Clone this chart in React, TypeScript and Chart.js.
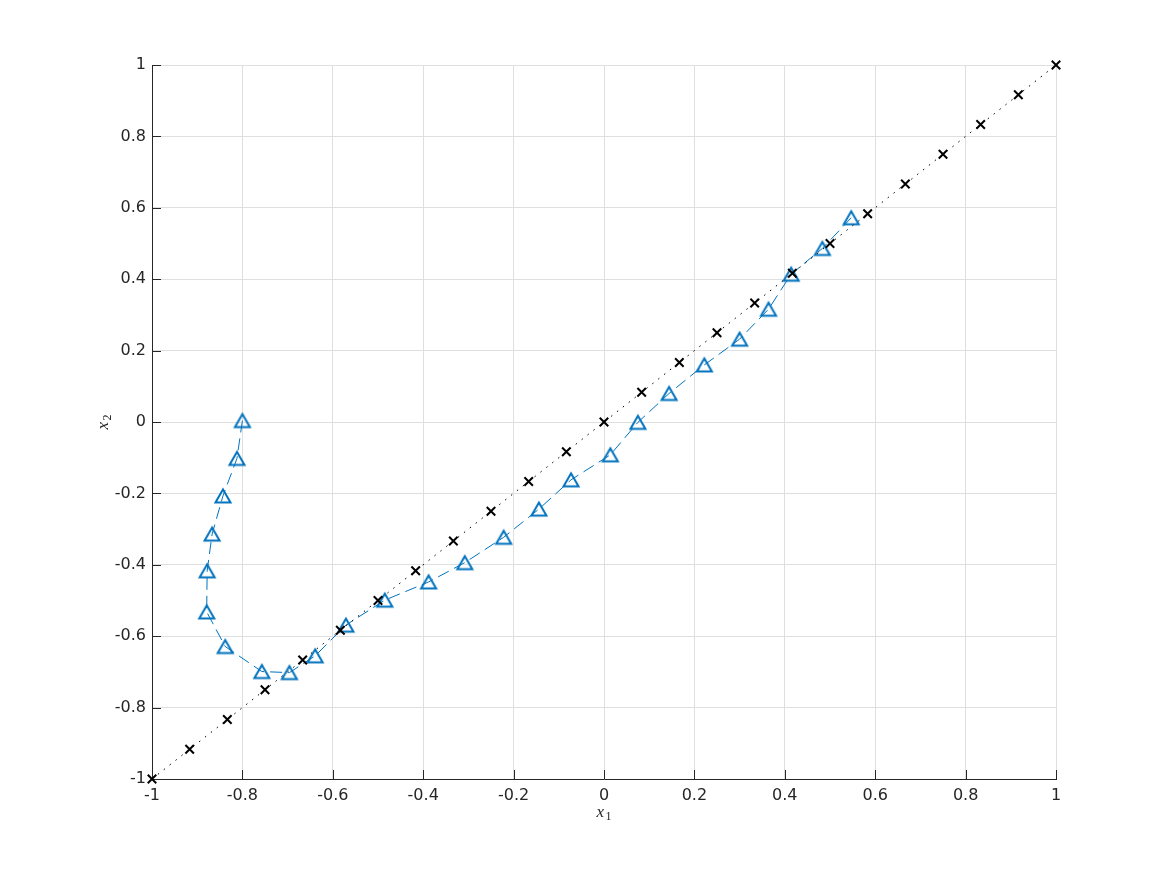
import React, { useEffect, useRef } from 'react';
import { Chart, registerables } from 'chart.js';

Chart.register(...registerables);

// Reference diagonal (black crosses, dotted line)
const refX = [-1, -0.9167, -0.8333, -0.75, -0.6667, -0.5833, -0.5, -0.4167, -0.3333, -0.25, -0.1667, -0.0833, 0, 0.0833, 0.1667, 0.25, 0.3333, 0.4167, 0.5, 0.5833, 0.6667, 0.75, 0.8333, 0.9167, 1];
const refY = [-1, -0.9167, -0.8333, -0.75, -0.6667, -0.5833, -0.5, -0.4167, -0.3333, -0.25, -0.1667, -0.0833, 0, 0.0833, 0.1667, 0.25, 0.3333, 0.4167, 0.5, 0.5833, 0.6667, 0.75, 0.8333, 0.9167, 1];

// Trajectory (blue triangles, dashed line)
const trajX = [-0.800, -0.812, -0.843, -0.867, -0.878, -0.879, -0.838, -0.757, -0.696, -0.639, -0.571, -0.485, -0.388, -0.308, -0.222, -0.144, -0.073, 0.014, 0.075, 0.144, 0.222, 0.300, 0.364, 0.414, 0.483, 0.547];
const trajY = [0.004, -0.102, -0.207, -0.314, -0.417, -0.532, -0.629, -0.699, -0.702, -0.655, -0.569, -0.499, -0.448, -0.394, -0.323, -0.244, -0.162, -0.092, -0.001, 0.080, 0.160, 0.232, 0.316, 0.414, 0.486, 0.572];

const tickValues = [-1, -0.8, -0.6, -0.4, -0.2, 0, 0.2, 0.4, 0.6, 0.8, 1];
const tickLabels = ['-1', '-0.8', '-0.6', '-0.4', '-0.2', '0', '0.2', '0.4', '0.6', '0.8', '1'];

const AXIS = '#262626';
const GRID = '#dfdfdf';
const BLUE = '#0072BD';

function makeTriangle(): HTMLCanvasElement {
  const c = document.createElement('canvas');
  c.width = 20;
  c.height = 18;
  const ctx = c.getContext('2d')!;
  ctx.strokeStyle = BLUE;
  ctx.lineWidth = 2;
  ctx.lineJoin = 'miter';
  ctx.beginPath();
  ctx.moveTo(10, 2.5);
  ctx.lineTo(2.5, 15.5);
  ctx.lineTo(17.5, 15.5);
  ctx.closePath();
  ctx.stroke();
  return c;
}

function drawLabel(ctx: CanvasRenderingContext2D, main: string, sub: string) {
  ctx.font = 'italic 17px "Liberation Serif", "DejaVu Serif", serif';
  const w1 = ctx.measureText(main).width;
  ctx.font = '12px "Liberation Serif", "DejaVu Serif", serif';
  const w2 = ctx.measureText(sub).width;
  const total = w1 + 1.5 + w2;
  ctx.textBaseline = 'alphabetic';
  ctx.textAlign = 'left';
  ctx.fillStyle = AXIS;
  ctx.font = 'italic 17px "Liberation Serif", "DejaVu Serif", serif';
  ctx.fillText(main, -total / 2, 0);
  ctx.font = '12px "Liberation Serif", "DejaVu Serif", serif';
  ctx.fillText(sub, -total / 2 + w1 + 1.5, 3);
}

const matlabAxes = {
  id: 'matlabAxes',
  beforeDatasetsDraw(chart: any) {
    const { ctx, chartArea } = chart;
    const xs = chart.scales.x;
    const ys = chart.scales.y;
    ctx.save();
    ctx.strokeStyle = AXIS;
    ctx.lineWidth = 1;
    ctx.beginPath();
    for (const v of tickValues) {
      const px = Math.round(xs.getPixelForValue(v)) + 0.5;
      ctx.moveTo(px, chartArea.bottom);
      ctx.lineTo(px, chartArea.bottom - 9);
      const py = Math.round(ys.getPixelForValue(v)) + 0.5;
      ctx.moveTo(chartArea.left, py);
      ctx.lineTo(chartArea.left + 9, py);
    }
    ctx.stroke();
    ctx.restore();
  },
  afterDraw(chart: any) {
    const { ctx, chartArea } = chart;
    ctx.save();
    ctx.translate((chartArea.left + chartArea.right) / 2, 817);
    drawLabel(ctx, 'x', '1');
    ctx.restore();
    ctx.save();
    ctx.translate(108, (chartArea.top + chartArea.bottom) / 2);
    ctx.rotate(-Math.PI / 2);
    drawLabel(ctx, 'x', '2');
    ctx.restore();
  },
};

function axisOptions(kind: 'x' | 'y') {
  return {
    type: 'linear' as const,
    min: -1,
    max: 1,
    afterBuildTicks: (s: any) => {
      s.ticks = tickValues.map((v) => ({ value: v }));
    },
    afterFit: (s: any) => {
      if (kind === 'y') s.width = 152;
      else s.height = 96;
    },
    grid: { color: GRID, lineWidth: 1, drawTicks: false },
    border: { display: true, color: AXIS, width: 1 },
    ticks: {
      padding: kind === 'y' ? 6 : 7,
      color: AXIS,
      font: { family: '"DejaVu Sans", sans-serif', size: 16 },
      callback: (v: number) => {
        const i = tickValues.indexOf(v);
        return i >= 0 ? tickLabels[i] : '';
      },
    },
  };
}

export default function App() {
  const ref = useRef<HTMLCanvasElement>(null);
  useEffect(() => {
    document.body.style.margin = '0';
    const tri = makeTriangle();
    const chart = new Chart(ref.current!, {
      type: 'scatter',
      data: {
        datasets: [
          {
            label: 'reference',
            data: refX.map((x, i) => ({ x, y: refY[i] })),
            showLine: true,
            clip: false,
            borderColor: '#000000',
            borderWidth: 1,
            borderDash: [1.5, 6],
            pointStyle: 'crossRot',
            pointRadius: 6,
            pointBorderWidth: 2,
            pointBorderColor: '#000000',
            pointBackgroundColor: '#000000',
            order: 0,
          },
          {
            label: 'trajectory',
            data: trajX.map((x, i) => ({ x, y: trajY[i] })),
            showLine: true,
            clip: false,
            borderColor: BLUE,
            borderWidth: 1,
            borderDash: [12, 6],
            pointStyle: tri as any,
            pointRadius: 9,
            order: 1,
          },
        ],
      },
      options: {
        responsive: false,
        animation: false,
        devicePixelRatio: 1,
        layout: { padding: { left: 0, right: 111, top: 65, bottom: 0 } },
        plugins: {
          legend: { display: false },
          tooltip: { enabled: false },
        },
        scales: {
          x: axisOptions('x'),
          y: axisOptions('y'),
        },
      } as any,
      plugins: [matlabAxes],
    });
    return () => chart.destroy();
  }, []);
  return (
    <div style={{ position: 'absolute', left: 0, top: 0, width: 1167, height: 875, background: '#ffffff' }}>
      <canvas ref={ref} width={1167} height={875} style={{ display: 'block' }} />
    </div>
  );
}
